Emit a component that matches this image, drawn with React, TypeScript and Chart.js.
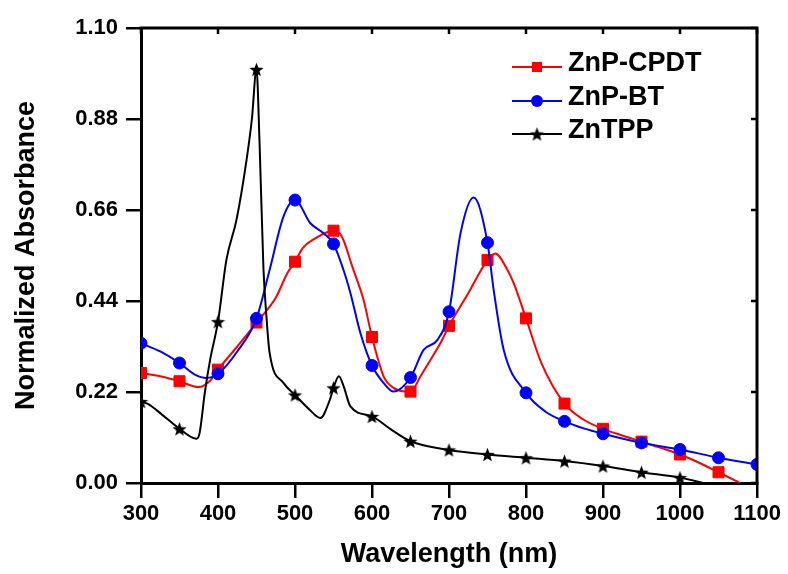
import React, { useEffect, useRef } from 'react';
import { Chart, registerables } from 'chart.js';

Chart.register(...registerables);

// ---- Data ----
const seriesLabels = ['ZnP-CPDT', 'ZnP-BT', 'ZnTPP'];

const cpdtWavelength = [300, 325, 350, 375, 390, 400, 425, 450, 475, 490, 500, 510, 525, 550, 558, 563, 575, 589, 600, 615, 628, 640, 650, 663, 676, 690, 700, 725, 750, 760, 776, 784, 800, 820, 850, 875, 900, 925, 950, 975, 1000, 1025, 1050, 1078];
const cpdtAbsorbance = [0.266, 0.258, 0.246, 0.232, 0.248, 0.274, 0.33, 0.388, 0.448, 0.507, 0.535, 0.568, 0.59, 0.61, 0.604, 0.587, 0.52, 0.443, 0.353, 0.258, 0.23, 0.222, 0.221, 0.258, 0.298, 0.342, 0.38, 0.459, 0.539, 0.555, 0.515, 0.483, 0.398, 0.29, 0.192, 0.153, 0.131, 0.115, 0.1, 0.085, 0.069, 0.049, 0.026, 0];

const btWavelength = [300, 325, 350, 370, 385, 400, 425, 450, 467, 485, 500, 520, 537, 550, 563, 572, 585, 600, 615, 628, 650, 667, 685, 700, 715, 732, 750, 758, 771, 800, 825, 850, 875, 900, 950, 1000, 1050, 1100];
const btAbsorbance = [0.338, 0.318, 0.29, 0.262, 0.254, 0.264, 0.318, 0.398, 0.515, 0.644, 0.684, 0.628, 0.604, 0.578, 0.515, 0.459, 0.362, 0.284, 0.242, 0.221, 0.255, 0.322, 0.346, 0.414, 0.604, 0.69, 0.581, 0.467, 0.322, 0.218, 0.173, 0.149, 0.132, 0.119, 0.097, 0.081, 0.061, 0.045];

const tppWavelength = [300, 310, 325, 350, 372, 376, 383, 390, 400, 411, 424, 437, 444, 450, 454, 459, 463, 467, 485, 500, 519, 533, 545, 550, 557, 563, 572, 600, 625, 650, 700, 750, 800, 850, 900, 950, 1000, 1030, 1040];
const tppAbsorbance = [0.197, 0.19, 0.169, 0.131, 0.107, 0.12, 0.22, 0.3, 0.39, 0.54, 0.636, 0.78, 0.88, 1.0, 0.82, 0.52, 0.4, 0.315, 0.242, 0.213, 0.177, 0.157, 0.2, 0.23, 0.258, 0.235, 0.185, 0.161, 0.129, 0.101, 0.08, 0.069, 0.061, 0.053, 0.041, 0.026, 0.013, 0, -0.005];

const xTickValues = [300, 400, 500, 600, 700, 800, 900, 1000, 1100];
const yTickValues = [0, 0.22, 0.44, 0.66, 0.88, 1.1];

const FONT = "'Liberation Sans', Arial, Helvetica, sans-serif";

function makeStar(size: number, color: string) {
  const c = document.createElement('canvas');
  c.width = size;
  c.height = size;
  const g = c.getContext('2d')!;
  const cx = size / 2;
  const cy = size / 2 + size * 0.05;
  const R = size / 2;
  const r = R * 0.42;
  g.beginPath();
  for (let i = 0; i < 10; i++) {
    const a = -Math.PI / 2 + (i * Math.PI) / 5;
    const rad = i % 2 ? r : R;
    g.lineTo(cx + rad * Math.cos(a), cy + rad * Math.sin(a));
  }
  g.closePath();
  g.fillStyle = color;
  g.fill();
  return c;
}

export default function App() {
  const ref = useRef<HTMLCanvasElement>(null);

  useEffect(() => {
    if (!ref.current) return;
    const star = makeStar(15, '#000000');

    const series = [
      { label: seriesLabels[0], wl: cpdtWavelength, ab: cpdtAbsorbance, color: '#FF0000', style: 'rect' as any, radius: 7.8, order: 3 },
      { label: seriesLabels[1], wl: btWavelength, ab: btAbsorbance, color: '#0000FF', style: 'circle' as any, radius: 6, order: 2 },
      { label: seriesLabels[2], wl: tppWavelength, ab: tppAbsorbance, color: '#000000', style: star as any, radius: 7, order: 1 },
    ];

    const framePlugin = {
      id: 'frame',
      afterDatasetsDraw(chart: any) {
        const { ctx, chartArea: a, scales } = chart;
        ctx.save();
        ctx.strokeStyle = '#000';
        ctx.lineWidth = 3;
        ctx.beginPath();
        ctx.moveTo(a.left - 1.5, a.top);
        ctx.lineTo(a.right, a.top);
        ctx.lineTo(a.right, a.bottom + 1.5);
        ctx.stroke();
        ctx.lineWidth = 2.5;
        ctx.beginPath();
        for (const v of xTickValues) {
          const px = scales.x.getPixelForValue(v);
          ctx.moveTo(px, a.top);
          ctx.lineTo(px, a.top + 6);
        }
        for (const v of yTickValues) {
          const py = scales.y.getPixelForValue(v);
          ctx.moveTo(a.right, py);
          ctx.lineTo(a.right - 6, py);
        }
        ctx.stroke();
        ctx.restore();
      },
    };

    const legendPlugin = {
      id: 'customLegend',
      afterDraw(chart: any) {
        const { ctx } = chart;
        const rows = [67, 101, 134];
        ctx.save();
        series.forEach((s, i) => {
          const y = rows[i];
          ctx.strokeStyle = s.color;
          ctx.lineWidth = 2;
          ctx.beginPath();
          ctx.moveTo(512, y);
          ctx.lineTo(562, y);
          ctx.stroke();
          ctx.fillStyle = s.color;
          if (i === 0) {
            ctx.fillRect(532, y - 5, 10, 10);
          } else if (i === 1) {
            ctx.beginPath();
            ctx.arc(537, y, 6, 0, Math.PI * 2);
            ctx.fill();
          } else {
            ctx.drawImage(star, 537 - star.width / 2, y - star.height / 2);
          }
          ctx.fillStyle = '#000';
          ctx.font = `bold 27px ${FONT}`;
          ctx.textBaseline = 'middle';
          ctx.textAlign = 'left';
          ctx.fillText(s.label, 568, y - 3);
        });
        ctx.restore();
      },
    };

    const chart = new Chart(ref.current, {
      type: 'line',
      data: {
        datasets: series.map((s) => ({
          label: s.label,
          data: s.wl.map((x, i) => ({ x, y: s.ab[i] })),
          borderColor: s.color,
          backgroundColor: s.color,
          borderWidth: 2,
          pointStyle: s.style,
          pointBackgroundColor: s.color,
          pointBorderColor: s.color,
          pointBorderWidth: 1,
          pointRadius: (c: any) => (c.raw && c.raw.x % 50 === 0 ? s.radius : 0),
          pointHoverRadius: (c: any) => (c.raw && c.raw.x % 50 === 0 ? s.radius : 0),
          cubicInterpolationMode: 'monotone',
          order: s.order,
        })) as any,
      },
      options: {
        animation: false,
        responsive: true,
        maintainAspectRatio: false,
        layout: { padding: { top: 28, right: 31, left: 0, bottom: 0 } },
        plugins: { legend: { display: false }, tooltip: { enabled: false } },
        scales: {
          x: {
            type: 'linear',
            min: 300,
            max: 1100,
            afterBuildTicks: (scale: any) => {
              scale.ticks = xTickValues.map((v) => ({ value: v }));
            },
            afterFit: (scale: any) => {
              scale.height = 91;
            },
            grid: { drawOnChartArea: false, drawTicks: true, tickLength: 15, color: '#000', lineWidth: 2.5 },
            border: { display: true, color: '#000', width: 3 },
            ticks: {
              color: '#000',
              padding: 3,
              maxRotation: 0,
              autoSkip: false,
              font: { family: FONT, size: 22, weight: 'bold' },
              callback: (v: any) => String(v),
            },
            title: {
              display: true,
              text: 'Wavelength (nm)',
              color: '#000',
              font: { family: FONT, size: 27, weight: 'bold' },
              padding: { top: 0, bottom: 3 },
            },
          },
          y: {
            type: 'linear',
            min: 0,
            max: 1.1,
            afterBuildTicks: (scale: any) => {
              scale.ticks = yTickValues.map((v) => ({ value: v }));
            },
            afterFit: (scale: any) => {
              scale.width = 141;
            },
            grid: { drawOnChartArea: false, drawTicks: true, tickLength: 15, color: '#000', lineWidth: 2.5 },
            border: { display: true, color: '#000', width: 3 },
            ticks: {
              color: '#000',
              padding: 8,
              autoSkip: false,
              font: { family: FONT, size: 22, weight: 'bold' },
              callback: (v: any) => Number(v).toFixed(2),
            },
            title: {
              display: true,
              text: 'Normalized Absorbance',
              color: '#000',
              font: { family: FONT, size: 27, weight: 'bold' },
              padding: { top: 10, bottom: 0 },
            },
          },
        },
      },
      plugins: [framePlugin, legendPlugin],
    });

    return () => chart.destroy();
  }, []);

  return (
    <div style={{ position: 'fixed', left: 0, top: 0, width: 788, height: 574, background: '#fff' }}>
      <canvas ref={ref} />
    </div>
  );
}
